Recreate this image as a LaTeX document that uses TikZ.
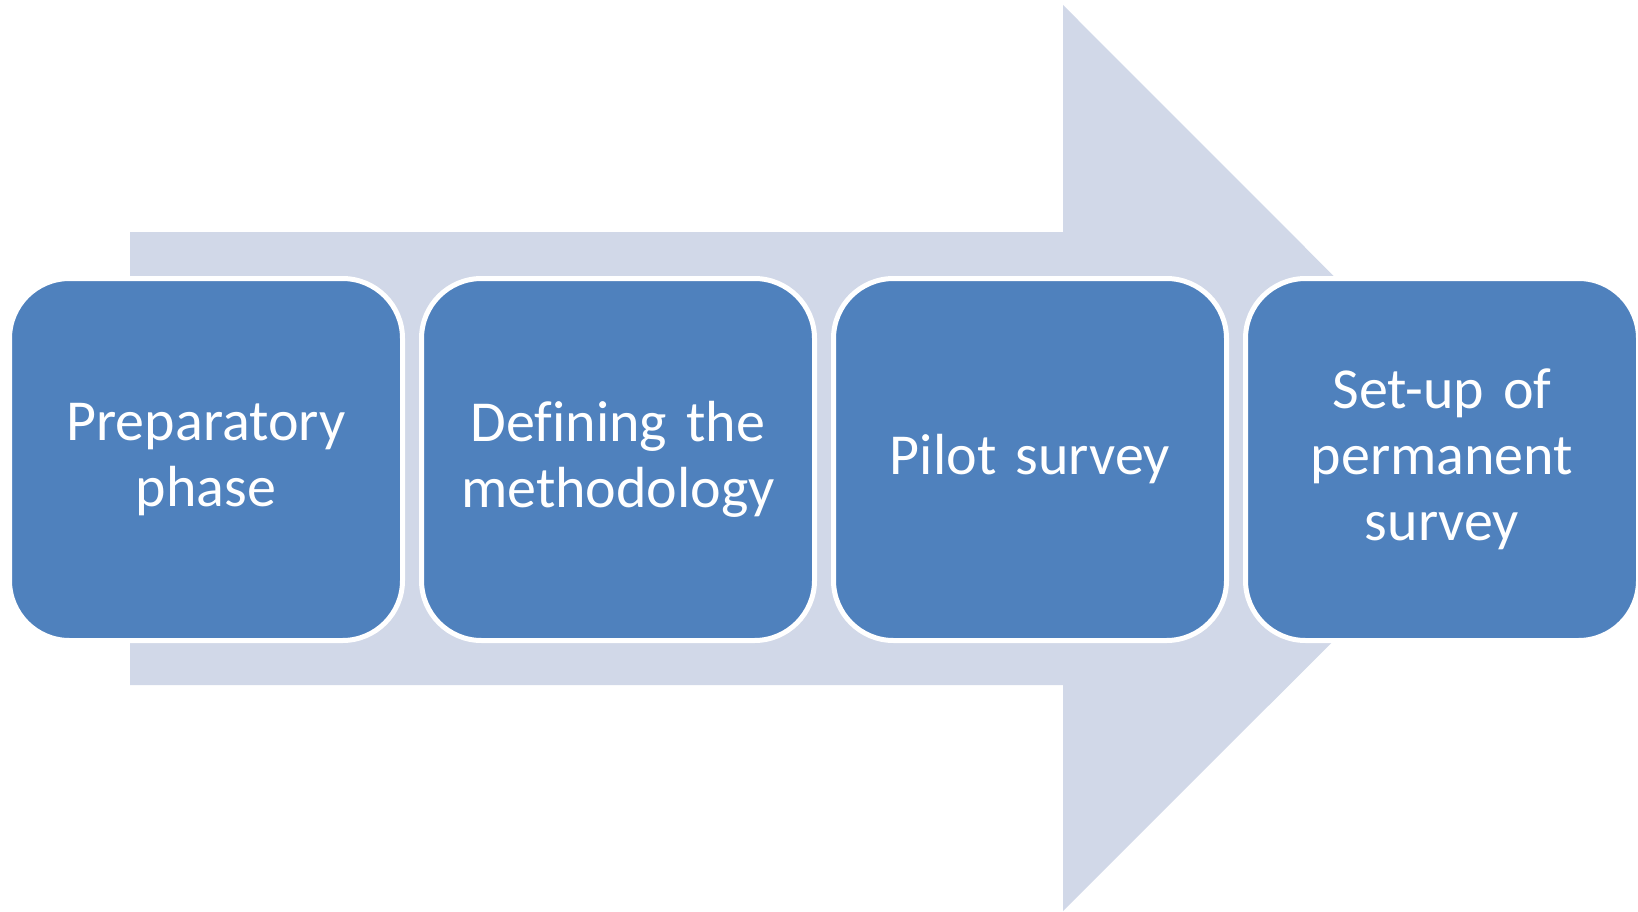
\documentclass[tikz,border=0pt]{standalone}
\usepackage{fontspec}
\setmainfont[Ligatures=NoCommon]{Carlito}
\definecolor{boxblue}{RGB}{79,129,189}
\definecolor{arrowgray}{RGB}{209,216,232}
\begin{document}
\begin{tikzpicture}[x=1pt,y=-1pt,
  stepbox/.style={rectangle, rounded corners=60pt, fill=boxblue, draw=white, line width=5pt,
    minimum width=393pt, minimum height=362pt, text width=370pt, align=center,
    text=white, font=\fontsize{58}{66}\selectfont, inner sep=0pt}]
\useasboundingbox (0,0) rectangle (1638,912);
\fill[arrowgray] (130,232) -- (1063,232) -- (1063,5) -- (1516,458.5) -- (1063,911) -- (1063,685) -- (130,685) -- cycle;
\node[stepbox] (p1) at (206,459.5) {Preparatory\\phase};
\node[stepbox] (p2) at (618,459.5) {Defining the\\methodology};
\node[stepbox] (p3) at (1030,459.5) {Pilot survey};
\node[stepbox] (p4) at (1442,459.5) {Set-up of\\permanent\\survey};
\end{tikzpicture}
\end{document}
